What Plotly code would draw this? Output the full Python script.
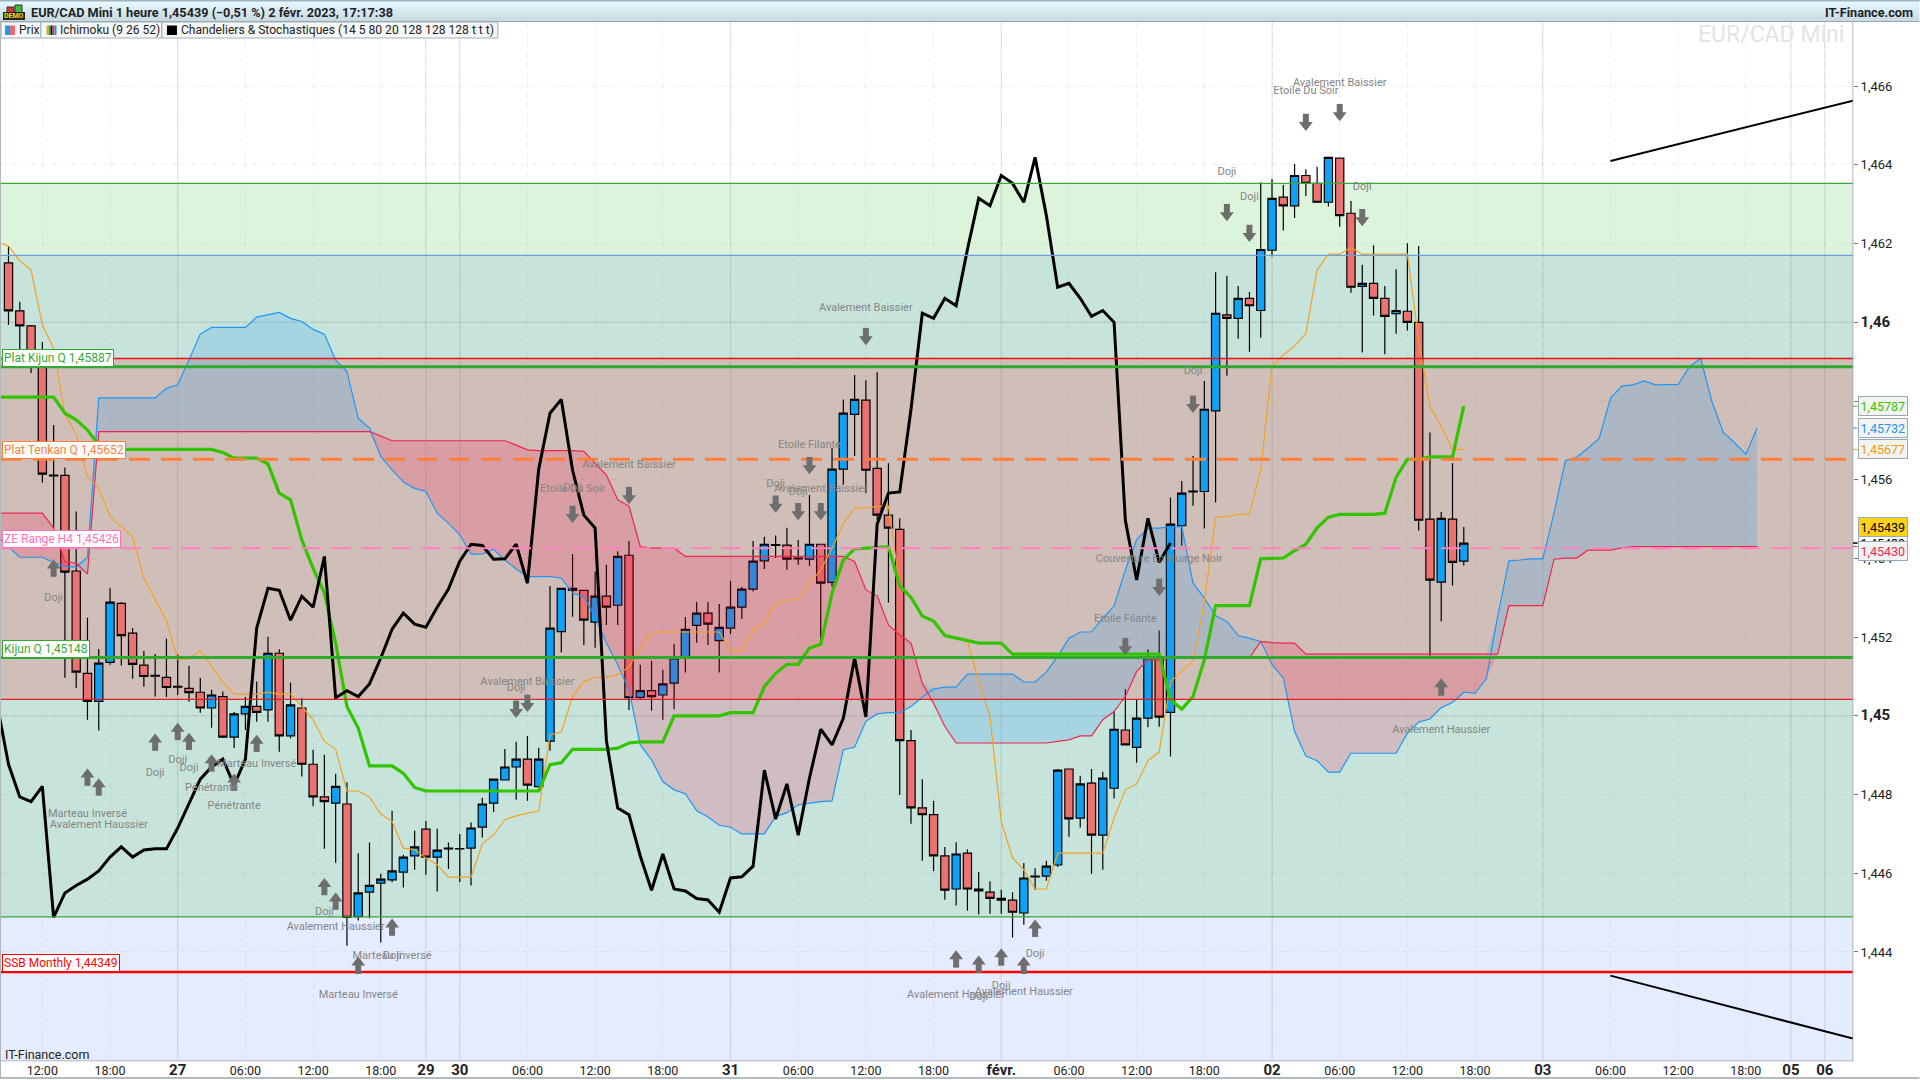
import numpy as np
import plotly.graph_objects as go

# hourly candles, index 0 = 26 jan 09:00, no gap on the week-ends
opens = [1.46151, 1.46029, 1.45991, 1.45909, 1.45612, 1.45611, 1.45368, 1.45108, 1.45037, 1.45136,
         1.45286, 1.4521, 1.45129, 1.45103, 1.45098, 1.45075, 1.4507, 1.4506, 1.4502, 1.45049,
         1.44946, 1.45005, 1.45024, 1.45015, 1.45159, 1.44949, 1.4502, 1.44877, 1.44794, 1.44778,
         1.44776, 1.4449, 1.44552, 1.44575, 1.44583, 1.44603, 1.44644, 1.44712, 1.44641, 1.44664,
         1.44663, 1.44664, 1.44717, 1.44778, 1.44837, 1.4487, 1.4489, 1.4482, 1.44936, 1.45214,
         1.45324, 1.45319, 1.45238, 1.45304, 1.45281, 1.45408, 1.45047, 1.45064, 1.45053, 1.45083,
         1.45147, 1.4523, 1.45261, 1.45191, 1.45223, 1.45276, 1.45322, 1.45394, 1.45435, 1.45434,
         1.45401, 1.45398, 1.45436, 1.45339, 1.45627, 1.45766, 1.45802, 1.45629, 1.4551, 1.45474,
         1.44937, 1.44766, 1.44749, 1.44644, 1.4456, 1.44651, 1.4456, 1.44552, 1.44536, 1.44532,
         1.44499, 1.44593, 1.44593, 1.44621, 1.44865, 1.4474, 1.44829, 1.44697, 1.44816, 1.44964,
         1.4492, 1.44994, 1.45145, 1.45009, 1.45483, 1.45571, 1.4557, 1.45775, 1.46019, 1.4601,
         1.46061, 1.4603, 1.46183, 1.46318, 1.46296, 1.46373, 1.46353, 1.46305, 1.46417, 1.46277,
         1.46091, 1.46099, 1.46061, 1.46022, 1.46028, 1.46, 1.455, 1.4534, 1.455, 1.45393]
highs = [1.46191, 1.46052, 1.45993, 1.4595, 1.45739, 1.45631, 1.45519, 1.45249, 1.4517, 1.45324,
         1.45289, 1.45223, 1.45165, 1.45157, 1.45196, 1.45155, 1.45127, 1.45096, 1.45066, 1.45062,
         1.4501, 1.45048, 1.45087, 1.45201, 1.45169, 1.45085, 1.45045, 1.44914, 1.44901, 1.44853,
         1.44831, 1.44651, 1.44678, 1.44599, 1.44759, 1.44647, 1.44708, 1.44733, 1.44713, 1.44678,
         1.447, 1.44729, 1.44792, 1.4484, 1.44916, 1.44934, 1.44949, 1.44919, 1.4533, 1.45325,
         1.45411, 1.4532, 1.45367, 1.45384, 1.45418, 1.45444, 1.4513, 1.4514, 1.45117, 1.45183,
         1.45251, 1.45289, 1.45289, 1.45284, 1.45343, 1.45328, 1.45444, 1.45455, 1.45458, 1.45478,
         1.45447, 1.45561, 1.45437, 1.4568, 1.45804, 1.45866, 1.45853, 1.45873, 1.45642, 1.45502,
         1.44964, 1.44839, 1.44784, 1.44667, 1.44679, 1.44661, 1.44603, 1.4458, 1.44558, 1.44552,
         1.44626, 1.44613, 1.44632, 1.44865, 1.44866, 1.44848, 1.44865, 1.44858, 1.45011, 1.45068,
         1.45041, 1.45169, 1.45217, 1.45555, 1.45597, 1.4566, 1.45851, 1.46127, 1.46118, 1.46092,
         1.46077, 1.46356, 1.46364, 1.46349, 1.46402, 1.46389, 1.46395, 1.4642, 1.46417, 1.46308,
         1.46146, 1.46196, 1.46092, 1.46135, 1.46201, 1.46194, 1.4572, 1.45518, 1.45642, 1.4548]
lows = [1.45993, 1.45917, 1.45871, 1.45593, 1.45478, 1.45097, 1.45071, 1.4499, 1.44963, 1.4513,
        1.45128, 1.45094, 1.45074, 1.45049, 1.45048, 1.45053, 1.45036, 1.45008, 1.4497, 1.44944,
        1.44918, 1.44964, 1.44985, 1.44985, 1.44909, 1.44943, 1.44846, 1.4477, 1.44662, 1.44627,
        1.44416, 1.4448, 1.44486, 1.44424, 1.44577, 1.44564, 1.44609, 1.44596, 1.44554, 1.44611,
        1.44578, 1.44569, 1.44691, 1.44756, 1.44837, 1.44787, 1.44784, 1.4482, 1.44911, 1.45161,
        1.45252, 1.4518, 1.45173, 1.45231, 1.45231, 1.45015, 1.45041, 1.45013, 1.4499, 1.45017,
        1.4511, 1.45186, 1.4518, 1.4511, 1.45208, 1.45246, 1.45316, 1.45373, 1.45401, 1.45371,
        1.45384, 1.45381, 1.45193, 1.45328, 1.45587, 1.4566, 1.45566, 1.45498, 1.45288, 1.44799,
        1.44726, 1.44632, 1.44605, 1.44533, 1.44518, 1.44505, 1.44495, 1.44497, 1.44497, 1.44437,
        1.44469, 1.44558, 1.44581, 1.44616, 1.44693, 1.44716, 1.44599, 1.44609, 1.4479, 1.44926,
        1.44881, 1.44971, 1.44972, 1.44897, 1.45432, 1.45534, 1.45476, 1.45542, 1.45864, 1.45958,
        1.45925, 1.45961, 1.46167, 1.46233, 1.46265, 1.46321, 1.46305, 1.46294, 1.46243, 1.46075,
        1.45923, 1.46017, 1.45919, 1.45971, 1.45979, 1.45471, 1.45153, 1.4524, 1.45331, 1.45382]
closes = [1.46029, 1.45991, 1.45909, 1.45614, 1.4561, 1.45365, 1.45111, 1.45037, 1.45134, 1.45289,
          1.45204, 1.45131, 1.451, 1.45101, 1.45072, 1.45073, 1.45059, 1.4502, 1.45053, 1.44946,
          1.45005, 1.45024, 1.45009, 1.45159, 1.44949, 1.45028, 1.44877, 1.44794, 1.44782, 1.44821,
          1.44488, 1.4455, 1.44569, 1.44585, 1.44606, 1.44641, 1.44667, 1.44641, 1.44659, 1.44662,
          1.44662, 1.44715, 1.44776, 1.44839, 1.4487, 1.4489, 1.44824, 1.4489, 1.45223, 1.45324,
          1.45319, 1.45243, 1.45304, 1.45276, 1.45405, 1.45046, 1.45064, 1.45049, 1.45081, 1.45147,
          1.4522, 1.45261, 1.45233, 1.45225, 1.45276, 1.45322, 1.45393, 1.45436, 1.45433, 1.45398,
          1.45399, 1.45436, 1.45337, 1.45627, 1.45769, 1.45804, 1.45624, 1.4551, 1.45477, 1.44937,
          1.44766, 1.44749, 1.44644, 1.44557, 1.44649, 1.4456, 1.44555, 1.44536, 1.44532, 1.44501,
          1.44588, 1.44591, 1.44618, 1.44862, 1.44738, 1.44827, 1.44697, 1.44842, 1.44966, 1.44926,
          1.44994, 1.45147, 1.44997, 1.45487, 1.45566, 1.45569, 1.45779, 1.46023, 1.4601, 1.46061,
          1.46042, 1.46185, 1.46315, 1.46296, 1.46373, 1.46353, 1.46305, 1.46419, 1.46271, 1.46089,
          1.46099, 1.46061, 1.46015, 1.4603, 1.46, 1.45497, 1.45345, 1.45502, 1.4539, 1.45439]

# ichimoku lines start one slot left of the first candle
kijun = [1.4581, 1.4581, 1.4581, 1.4581, 1.4581, 1.4581, 1.45769, 1.45752, 1.45726, 1.45688,
         1.45677, 1.45677, 1.45677, 1.45677, 1.45677, 1.45677, 1.45677, 1.45677, 1.45677, 1.45677,
         1.45669, 1.45655, 1.45655, 1.45655, 1.4564, 1.45566, 1.45549, 1.45447, 1.45375, 1.45312,
         1.45185, 1.45024, 1.44969, 1.44873, 1.44873, 1.44873, 1.44854, 1.44818, 1.44809, 1.44809,
         1.44809, 1.44809, 1.44809, 1.44809, 1.44809, 1.44809, 1.44809, 1.44809, 1.44809, 1.44876,
         1.44881, 1.44915, 1.44915, 1.44915, 1.44915, 1.44918, 1.44931, 1.44934, 1.44934, 1.44934,
         1.45, 1.45, 1.45, 1.45, 1.45, 1.45008, 1.45008, 1.45008, 1.45074, 1.45108,
         1.45131, 1.45131, 1.45172, 1.45182, 1.45312, 1.45396, 1.45424, 1.45426, 1.4543, 1.4543,
         1.4533, 1.45301, 1.45254, 1.45241, 1.45204, 1.45197, 1.4519, 1.45185, 1.45185, 1.45185,
         1.45157, 1.45157, 1.45157, 1.45157, 1.45157, 1.45157, 1.45157, 1.45157, 1.45157, 1.45157,
         1.45157, 1.45157, 1.45157, 1.45157, 1.45041, 1.45017, 1.45049, 1.45142, 1.4528, 1.4528,
         1.4528, 1.4528, 1.45399, 1.45401, 1.45401, 1.4542, 1.45436, 1.45478, 1.45505, 1.45512,
         1.45512, 1.45512, 1.45512, 1.45515, 1.45606, 1.45652, 1.45652, 1.45658, 1.45658, 1.45658,
         1.45787]
tenkan = [1.46204, 1.46194, 1.46156, 1.46133, 1.45993, 1.45934, 1.45765, 1.45716, 1.45608, 1.45578,
          1.45506, 1.45481, 1.45455, 1.4535, 1.45295, 1.45242, 1.45144, 1.45144, 1.45166, 1.45125,
          1.45085, 1.45055, 1.45055, 1.45055, 1.4506, 1.45055, 1.45055, 1.45024, 1.4499, 1.44935,
          1.44915, 1.44809, 1.44809, 1.44794, 1.4475, 1.44732, 1.44664, 1.4466, 1.44639, 1.44622,
          1.4459, 1.4459, 1.4459, 1.44675, 1.44698, 1.44736, 1.44746, 1.44753, 1.44758, 1.44952,
          1.44959, 1.45049, 1.45087, 1.45098, 1.45098, 1.45104, 1.45125, 1.45173, 1.45213, 1.45213,
          1.45213, 1.45213, 1.45213, 1.45213, 1.45213, 1.45165, 1.45165, 1.45217, 1.45238, 1.45284,
          1.45295, 1.45295, 1.45337, 1.45371, 1.45426, 1.45489, 1.45528, 1.45528, 1.45532, 1.45533,
          1.4533, 1.45301, 1.45254, 1.45241, 1.45204, 1.45197, 1.4519, 1.45087, 1.44998, 1.44732,
          1.44639, 1.44609, 1.4456, 1.4456, 1.44651, 1.44651, 1.44651, 1.44651, 1.44651, 1.4474,
          1.44812, 1.44827, 1.44886, 1.44908, 1.45087, 1.45113, 1.45138, 1.45287, 1.45505, 1.45506,
          1.45512, 1.45512, 1.45625, 1.45887, 1.45917, 1.4594, 1.45972, 1.46133, 1.46173, 1.46173,
          1.4619, 1.46173, 1.46173, 1.46173, 1.46173, 1.46173, 1.45955, 1.45786, 1.45735, 1.45677,
          1.45677]
ssa = [1.45455, 1.4543, 1.45403, 1.45403, 1.45403, 1.4539, 1.45379, 1.45378, 1.45403, 1.45808,
       1.45808, 1.45808, 1.45808, 1.45808, 1.45808, 1.45832, 1.45841, 1.45904, 1.4597, 1.45987,
       1.45987, 1.45987, 1.45987, 1.46013, 1.46019, 1.46025, 1.4601, 1.46002, 1.45982, 1.4597,
       1.45904, 1.45875, 1.45756, 1.45731, 1.45659, 1.45625, 1.45594, 1.45578, 1.4557, 1.45515,
       1.45489, 1.4546, 1.45411, 1.45411, 1.45423, 1.45396, 1.45373, 1.45354, 1.45354, 1.45354,
       1.4535, 1.45312, 1.45303, 1.45252, 1.45185, 1.4513, 1.45066, 1.44926, 1.44888, 1.44833,
       1.44812, 1.44802, 1.44759, 1.44743, 1.44722, 1.44717, 1.447, 1.447, 1.447, 1.44744,
       1.44754, 1.44774, 1.44778, 1.44782, 1.44784, 1.44914, 1.4492, 1.44986, 1.45005, 1.45008,
       1.45008, 1.45024, 1.45047, 1.45068, 1.45073, 1.45073, 1.45106, 1.45106, 1.45106, 1.45106,
       1.45106, 1.45086, 1.45086, 1.45111, 1.45151, 1.45197, 1.45213, 1.45213, 1.45248, 1.45279,
       1.45371, 1.45447, 1.45477, 1.45477, 1.45481, 1.45481, 1.45337, 1.45299, 1.45254, 1.4524,
       1.45204, 1.45197, 1.45189, 1.4513, 1.45096, 1.4496, 1.44898, 1.44886, 1.44857, 1.44857,
       1.44905, 1.44905, 1.44905, 1.44905, 1.44905, 1.44956, 1.44984, 1.44992, 1.45021, 1.45034,
       1.4506, 1.45058, 1.45094, 1.45252, 1.45394, 1.45396, 1.45399, 1.45399, 1.45515, 1.45648,
       1.45657, 1.4568, 1.45705, 1.45807, 1.45838, 1.45841, 1.45851, 1.45841, 1.45841, 1.45842,
       1.45887, 1.45908, 1.45798, 1.4572, 1.45694, 1.45665, 1.45731]
ssb = [1.45515, 1.45515, 1.45515, 1.45515, 1.45515, 1.45477, 1.45392, 1.45388, 1.4536, 1.45722,
       1.45722, 1.45722, 1.45722, 1.45722, 1.45722, 1.45722, 1.45722, 1.45722, 1.45722, 1.45722,
       1.45722, 1.45722, 1.45722, 1.45722, 1.45722, 1.45722, 1.45722, 1.45722, 1.45722, 1.45722,
       1.45722, 1.45722, 1.45722, 1.45722, 1.45711, 1.45699, 1.45699, 1.45699, 1.45699, 1.45699,
       1.45699, 1.45699, 1.45699, 1.45699, 1.45699, 1.45699, 1.45688, 1.45676, 1.45674, 1.45674,
       1.45674, 1.45674, 1.45672, 1.45642, 1.45612, 1.45549, 1.45533, 1.4543, 1.45426, 1.45426,
       1.45426, 1.45405, 1.45405, 1.45405, 1.45405, 1.45405, 1.45405, 1.45405, 1.45405, 1.45405,
       1.45405, 1.45405, 1.45405, 1.45405, 1.45405, 1.45405, 1.45392, 1.4532, 1.45305, 1.45231,
       1.45206, 1.45185, 1.45083, 1.45032, 1.44973, 1.44931, 1.44931, 1.44931, 1.44931, 1.44931,
       1.44931, 1.44931, 1.44931, 1.44931, 1.44935, 1.44939, 1.44949, 1.44949, 1.4499, 1.45011,
       1.45049, 1.45113, 1.45142, 1.45142, 1.45147, 1.45147, 1.45147, 1.45147, 1.45147, 1.45147,
       1.45147, 1.45147, 1.45189, 1.45186, 1.45185, 1.45185, 1.45157, 1.45157, 1.45157, 1.45157,
       1.45157, 1.45157, 1.45157, 1.45157, 1.45157, 1.45157, 1.45157, 1.45157, 1.45157, 1.45157,
       1.45157, 1.45157, 1.45157, 1.45157, 1.4528, 1.4528, 1.4528, 1.4528, 1.45398, 1.45401,
       1.45401, 1.45421, 1.45421, 1.45421, 1.45427, 1.4543, 1.4543, 1.4543, 1.4543, 1.4543,
       1.4543, 1.4543, 1.4543, 1.4543, 1.4543, 1.4543, 1.4543]

trend_up_idx = [142, 163.5]
trend_up_val = [1.4641, 1.46563]
trend_down_idx = [142, 163.5]
trend_down_val = [1.4434, 1.4418]

# horizontal levels
plat_kijun = 1.45887
plat_tenkan = 1.45652
ze_range = 1.45426
kijun_q = 1.45148
ssb_monthly = 1.44349
zone_green = [1.44489, 1.46353]
zone_blue_top = 1.4617
zone_red = [1.45042, 1.45908]

BIG = '<span style="font-size:15px"><b>%s</b></span>'
x_tick_idx = [3, 9, 15, 21, 27, 33, 37, 40, 46, 52, 58, 64, 70, 76, 82, 88, 94, 100, 106, 112,
              118, 124, 130, 136, 142, 148, 154, 158, 161]
x_tick_lab = ['12:00', '18:00', BIG % '27', '06:00', '12:00', '18:00', BIG % '29', BIG % '30',
              '06:00', '12:00', '18:00', BIG % '31', '06:00', '12:00', '18:00', BIG % 'févr.',
              '06:00', '12:00', '18:00', BIG % '02', '06:00', '12:00', '18:00', BIG % '03',
              '06:00', '12:00', '18:00', BIG % '05', BIG % '06']
day_idx = [15, 37, 40, 64, 88, 112, 136, 158, 161]
y_tick_val = [1.444, 1.446, 1.448, 1.45, 1.452, 1.454, 1.456, 1.458, 1.46, 1.462, 1.464, 1.466]
y_tick_lab = ['1,444', '1,446', '1,448', BIG % '1,45', '1,452', '1,454', '1,456', '1,458',
              BIG % '1,46', '1,462', '1,464', '1,466']

# pattern names and arrows
pat_name = ['Doji', 'Marteau Inversé', 'Avalement Haussier', 'Doji', 'Doji', 'Doji', 'Marteau Inversé',
            'Pénétrante', 'Pénétrante', 'Doji', 'Avalement Haussier', 'Marteau Inversé', 'Doji',
            'Marteau Inversé', 'Avalement Baissier', 'Etoile Du Soir', 'Doji', 'Avalement Baissier',
            'Doji', 'Etoile Filante', 'Doji', 'Avalement Baissier', 'Doji', 'Doji',
            'Couverture En Nuage Noir', 'Etoile Filante', 'Avalement Baissier', 'Doji', 'Doji',
            'Avalement Baissier', 'Etoile Du Soir', 'Doji', 'Avalement Haussier', 'Doji', 'Doji',
            'Avalement Haussier', 'Doji', 'Avalement Haussier']
pat_idx = [4, 7, 8, 13, 15, 16, 22, 18, 20, 28, 29, 34, 34, 31, 55, 50, 50, 46, 45, 71, 68, 72, 70, 105,
           102, 99, 76, 108, 110, 118, 115, 120, 127, 91, 88, 84, 86, 90]
pat_val = [1.453, 1.44749, 1.44722, 1.44854, 1.44888, 1.44867, 1.44878, 1.44816, 1.44771, 1.44501,
           1.44462, 1.4439, 1.4439, 1.44291, 1.45638, 1.45576, 1.45578, 1.45086, 1.4507, 1.45688,
           1.45589, 1.45576, 1.45567, 1.45875, 1.45399, 1.45246, 1.46035, 1.46382, 1.46318, 1.46608,
           1.46587, 1.46343, 1.44964, 1.44395, 1.44314, 1.44291, 1.44286, 1.44298]
up_idx = [7, 8, 13, 15, 16, 18, 20, 22, 28, 29, 34, 31, 4, 84, 86, 88, 90, 91, 127]
up_val = [1.4484, 1.44815, 1.44929, 1.44956, 1.44931, 1.44876, 1.44827, 1.44926, 1.44562, 1.44525,
          1.44459, 1.44362, 1.45371, 1.44378, 1.44365, 1.44383, 1.44362, 1.44456, 1.45069]
down_idx = [50, 55, 45, 46, 68, 70, 72, 71, 105, 102, 99, 76, 108, 110, 115, 118, 120]
down_val = [1.45516, 1.45564, 1.45021, 1.45036, 1.45542, 1.45523, 1.45523, 1.4564, 1.45796, 1.45331,
            1.4518, 1.45968, 1.46283, 1.4623, 1.46512, 1.46537, 1.4627]

FONT = 'Roboto'
PLOT_L, PLOT_R, PLOT_T, PLOT_B = 1, 1853.5, 22, 1061.3
Y_RANGE = [1.44123, 1.46763]
X_RANGE = [-0.665, 163.5]


def px_x(px):
    return (px - PLOT_L) / (PLOT_R - PLOT_L)


def px_y(py):
    return (PLOT_B - py) / (PLOT_B - PLOT_T)


def chrome_rect(x0, y0, x1, y1, fill, line=None, lw=1):
    return dict(type='rect', xref='paper', yref='paper', layer='above',
                x0=px_x(x0), x1=px_x(x1), y0=px_y(y0), y1=px_y(y1),
                fillcolor=fill, line=dict(color=line or 'rgba(0,0,0,0)', width=lw if line else 0))


fig = go.Figure()

# cloud
cloud_idx = np.arange(-1, len(ssa) - 1)
ssa_arr, ssb_arr = np.array(ssa), np.array(ssb)
for edge, colour in [(np.maximum(ssa_arr, ssb_arr), 'rgba(33,157,245,0.2)'),
                     (np.minimum(ssa_arr, ssb_arr), 'rgba(255,0,59,0.167)')]:
    fig.add_trace(go.Scatter(x=cloud_idx, y=ssb_arr, mode='lines', line=dict(width=0), hoverinfo='skip'))
    fig.add_trace(go.Scatter(x=cloud_idx, y=edge, mode='lines', line=dict(width=0), fill='tonexty',
                             fillcolor=colour, hoverinfo='skip'))

fig.add_trace(go.Candlestick(
    x=list(range(len(opens))), open=opens, high=highs, low=lows, close=closes,
    increasing=dict(fillcolor='#0ea2f7', line=dict(color='#000000', width=1.2)),
    decreasing=dict(fillcolor='#ec7272', line=dict(color='#000000', width=1.2)),
    hoverinfo='skip'))

fig.add_trace(go.Scatter(x=cloud_idx, y=ssa, mode='lines', line=dict(color='#2196f3', width=1.2)))
fig.add_trace(go.Scatter(x=cloud_idx, y=ssb, mode='lines', line=dict(color='#f0264f', width=1.2)))

line_idx = np.arange(-1, len(kijun) - 1)
fig.add_trace(go.Scatter(x=line_idx, y=tenkan, mode='lines', line=dict(color='#f5a020', width=1.2)))
fig.add_trace(go.Scatter(x=line_idx, y=kijun, mode='lines', line=dict(color='#33c400', width=3.2)))

# chikou is the close moved 26 hours back
fig.add_trace(go.Scatter(x=np.arange(-1, len(closes) - 26), y=closes[25:], mode='lines',
                         line=dict(color='#000000', width=3)))
fig.add_trace(go.Scatter(x=trend_up_idx, y=trend_up_val, mode='lines', line=dict(color='#000000', width=2)))
fig.add_trace(go.Scatter(x=trend_down_idx, y=trend_down_val, mode='lines', line=dict(color='#000000', width=2)))

level_styles = [
    (zone_green[1], '#3fa53f', 1.2, None), (zone_green[0], '#3fa53f', 1.2, None),
    (zone_blue_top, '#6c9fe0', 1.2, None), (zone_red[1], '#f01010', 1.5, None),
    (zone_red[0], '#e02020', 1.2, None), (plat_kijun, '#2eaa2e', 3, None),
    (kijun_q, '#2eaa2e', 3, None), (ssb_monthly, '#ff0000', 2.5, None),
    (plat_tenkan, '#ff7f3a', 3, '21px,11px'), (ze_range, '#ff80c0', 2, '20px,10px'),
]
for val, colour, width, dash in level_styles:
    fig.add_trace(go.Scatter(x=X_RANGE, y=[val, val], mode='lines',
                             line=dict(color=colour, width=width, dash=dash or 'solid')))

# arrows = shaft plus head
up_arr, down_arr = np.array(up_val), np.array(down_val)
for idx, vals, head_vals, symbol in [(up_idx, up_arr, up_arr + 0.00011, 'triangle-up'),
                                     (down_idx, down_arr, down_arr - 0.00011, 'triangle-down')]:
    fig.add_trace(go.Scatter(x=idx, y=vals, mode='markers',
                             marker=dict(symbol='line-ns', size=10, line=dict(color='#6e6e6e', width=6))))
    fig.add_trace(go.Scatter(x=idx, y=head_vals, mode='markers',
                             marker=dict(symbol=symbol, size=12, color='#6e6e6e', line=dict(width=0))))

fig.add_trace(go.Scatter(x=pat_idx, y=pat_val, mode='text', text=pat_name, textposition='middle center',
                         textfont=dict(family=FONT, size=11, color='#858585')))

shapes = [
    dict(type='rect', xref='paper', yref='y', x0=0, x1=1, y0=Y_RANGE[0], y1=zone_blue_top, layer='below',
         fillcolor='rgba(100,136,255,0.16)', line=dict(width=0)),
    dict(type='rect', xref='paper', yref='y', x0=0, x1=1, y0=zone_green[0], y1=zone_green[1], layer='below',
         fillcolor='rgba(40,185,40,0.16)', line=dict(width=0)),
    dict(type='rect', xref='paper', yref='y', x0=0, x1=1, y0=zone_red[0], y1=zone_red[1], layer='below',
         fillcolor='rgba(255,0,0,0.16)', line=dict(width=0)),
]
for d in day_idx:
    shapes.append(dict(type='line', xref='x', yref='paper', x0=d, x1=d, y0=0, y1=1, layer='below',
                       line=dict(color='rgba(120,120,120,0.14)', width=1.5)))
for v in [1.45, 1.46]:
    shapes.append(dict(type='line', xref='paper', yref='y', x0=0, x1=1, y0=v, y1=v, layer='below',
                       line=dict(color='rgba(120,120,120,0.14)', width=1.5)))

# title bar
bar_cols = ['#9fb2bf', '#e6f6fc', '#e3f4fa', '#e0f1f8', '#ddeef5', '#dbecf3', '#d8e9f0', '#d5e6ed', '#d2e3ea',
            '#cfe0e7', '#ccdde5', '#c9dae3', '#c7d8e1']
for n, col in enumerate(bar_cols):
    y0 = n * 21.0 / len(bar_cols)
    shapes.append(chrome_rect(0, y0, 1920, y0 + 21.0 / len(bar_cols) + 0.3, col))
shapes.append(chrome_rect(0, 21, 1920, 22, '#9aa8b2'))

# legend row cells
for x0, x1 in [(1, 41), (41, 162), (162, 498)]:
    shapes.append(chrome_rect(x0, 22, x1, 38, '#f6f8f8', '#9fadb6', 1))
shapes += [chrome_rect(5, 25.5, 10, 35, '#1f9cf0'), chrome_rect(10, 25.5, 15, 35, '#ec6a6a')]
for n, col in enumerate(['#f5a020', '#33c400', '#111111', '#f0264f', '#2196f3']):
    shapes.append(chrome_rect(46.5 + n * 2, 25.5, 48.5 + n * 2, 35, col))
shapes.append(chrome_rect(167, 25.5, 177, 35, '#000000'))

# demo icon
shapes += [chrome_rect(7, 7, 14, 13, '#d33a3a', '#333333'), chrome_rect(15, 5, 22, 13, '#3ebd3e', '#333333'),
           chrome_rect(3, 12, 25, 20, '#222222')]

# window frame
shapes += [chrome_rect(0, 1060.8, 1853.5, 1061.6, '#9aa4ac'),
           chrome_rect(1853, 22, 1853.8, 1061.6, '#9aa4ac'),
           chrome_rect(0, 1077.5, 1920, 1079, '#9aa4ac'),
           chrome_rect(0, 22, 1, 1078, '#b0b8be')]

ann = []


def label(text, x, y, size=12, colour='#222222', anchor='left', xref='paper', yref='paper', **kw):
    ann.append(dict(text=text, x=x, y=y, xref=xref, yref=yref, xanchor=anchor, yanchor=kw.pop('yanchor', 'middle'),
                    showarrow=False, font=dict(family=FONT, size=size, color=colour), **kw))


label('<b>EUR/CAD Mini 1 heure 1,45439 (−0,51 %) 2 févr. 2023, 17:17:38</b>', px_x(29), px_y(12), 12.7, '#1c2328')
label('<b>IT-Finance.com</b>', px_x(1916), px_y(12), 12.7, '#1c2328', anchor='right')
label('<b>DEMO</b>', px_x(14), px_y(16), 7, '#ffe000', anchor='center')
label('Prix', px_x(17), px_y(30.5), 12)
label('Ichimoku (9 26 52)', px_x(58), px_y(30.5), 12)
label('Chandeliers & Stochastiques (14 5 80 20 128 128 128 t t t)', px_x(179), px_y(30.5), 12.1)
label('EUR/CAD Mini', px_x(1846), px_y(35), 23, '#e4e4e4', anchor='right')
label('IT-Finance.com', px_x(3), px_y(1055), 12.5, '#222222')

# level tags sit on top of their line
for text, val, colour in [('Plat Kijun Q 1,45887', plat_kijun, '#35a835'),
                          ('Plat Tenkan Q 1,45652', plat_tenkan, '#ff7f3a'),
                          ('ZE Range H4 1,45426', ze_range, '#ff70b8'),
                          ('Kijun Q 1,45148', kijun_q, '#35a835'),
                          ('SSB Monthly 1,44349', ssb_monthly, '#ff0000')]:
    label(text, 0.0005, val, 12, colour, yref='y', yanchor='bottom', bgcolor='#ffffff', bordercolor=colour,
          borderwidth=1, borderpad=1)

# last values in the price scale, boxes pushed apart when they would collide
for text, val, shift, colour, bg in [('1,45787', kijun[-1], 0, '#33c400', '#f2f4f4'),
                                     ('1,45732', ssa[-1], 0, '#2196f3', '#f2f4f4'),
                                     ('1,45677', tenkan[-1], 0, '#f59a10', '#f2f4f4'),
                                     ('1,45439', closes[-1], 0, '#000000', '#ffffff'),
                                     ('1,45439', closes[-1], 0.0004, '#000000', '#ffd21a'),
                                     ('1,45430', ssb[-1], -0.00012, '#f0264f', '#f2f4f4')]:
    label(text, 1, val + shift, 12.5, colour, yref='y', xshift=5, bgcolor=bg, bordercolor='#9aa8b2',
          borderwidth=1, borderpad=1.5)
    shapes.append(dict(type='line', xref='paper', yref='y', x0=1, x1=px_x(1858), y0=val, y1=val, layer='above',
                       line=dict(color=colour, width=1)))

fig.update_layout(
    width=1920, height=1080,
    margin=dict(l=PLOT_L, r=1920 - PLOT_R, t=PLOT_T, b=1080 - PLOT_B, pad=0),
    paper_bgcolor='#ffffff', plot_bgcolor='#ffffff',
    showlegend=False, hovermode=False, boxgap=0.27, boxgroupgap=0,
    shapes=shapes, annotations=ann,
    font=dict(family=FONT, size=12.5, color='#222222'),
    xaxis=dict(range=X_RANGE, rangeslider=dict(visible=False), tickmode='array', tickvals=x_tick_idx, ticktext=x_tick_lab,
               tickangle=0, showgrid=True, gridcolor='rgba(120,120,120,0.10)', griddash='6px,4px', gridwidth=1,
               zeroline=False, ticks='', showline=False, tickfont=dict(size=12.5)),
    yaxis=dict(range=Y_RANGE, side='right', tickmode='array', tickvals=y_tick_val, ticktext=y_tick_lab,
               showgrid=True, gridcolor='rgba(120,120,120,0.10)', griddash='6px,4px', gridwidth=1,
               zeroline=False, ticks='outside', ticklen=4, tickcolor='#777777', showline=False,
               tickfont=dict(size=13)),
)

fig.write_html("out.html", config={'displayModeBar': False},
               post_script="document.body.style.margin='0';document.body.style.overflow='hidden';")
